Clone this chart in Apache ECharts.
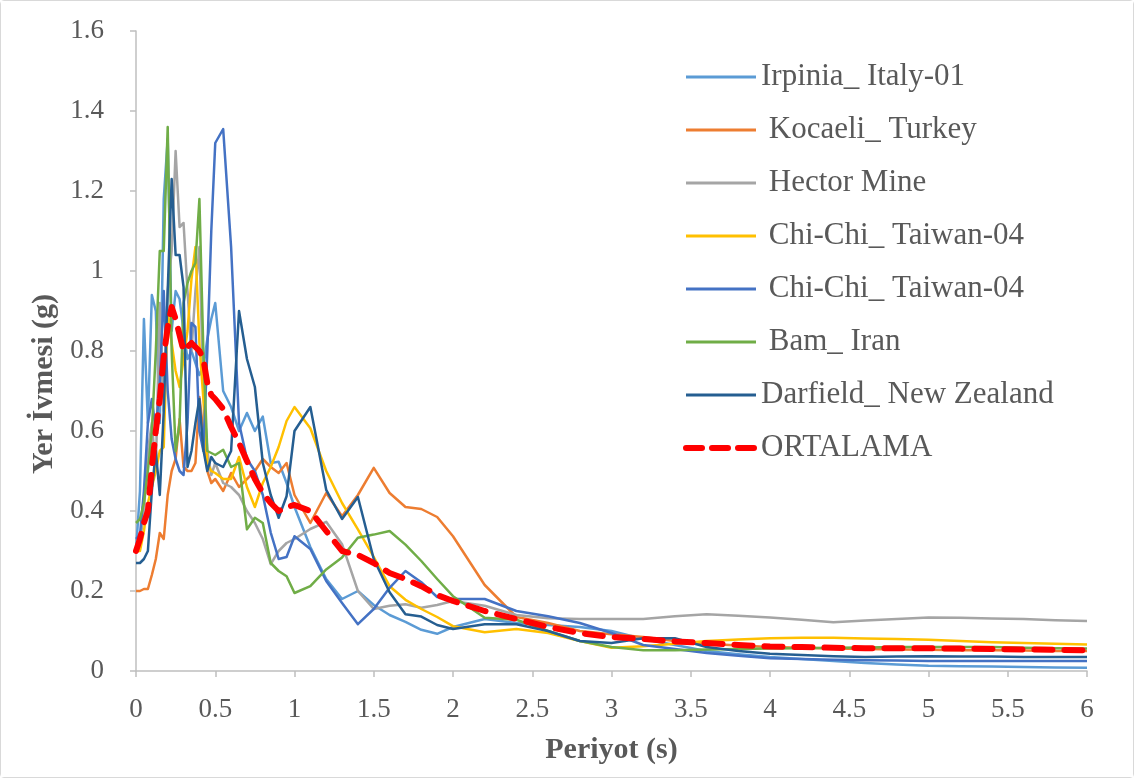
<!DOCTYPE html>
<html>
<head>
<meta charset="utf-8">
<script src="https://cdn.jsdelivr.net/npm/echarts@6/dist/echarts.min.js"></script>
<style>
html,body{margin:0;padding:0;background:#fff;}
#chart{width:1134px;height:778px;box-sizing:border-box;border:1px solid #D9D9D9;border-radius:4px;}
</style>
</head>
<body>
<div id="chart"></div>
<script>
// Period values (s) shared by all series
const periods = [0,0.025,0.05,0.075,0.1,0.125,0.15,0.175,0.2,0.225,0.25,0.275,0.3,0.325,0.35,0.375,0.4,0.425,0.45,0.475,0.5,0.55,0.6,0.65,0.7,0.75,0.8,0.85,0.9,0.95,1.0,1.1,1.2,1.3,1.4,1.5,1.6,1.7,1.8,1.9,2.0,2.2,2.4,2.6,2.8,3.0,3.2,3.4,3.6,3.8,4.0,4.2,4.4,4.6,4.8,5.0,5.2,5.4,5.6,5.8,6.0];

const irpinia = [0.30,0.45,0.88,0.62,0.94,0.90,0.62,1.18,1.33,0.85,0.95,0.93,0.85,0.78,0.80,0.77,0.74,0.76,0.83,0.88,0.92,0.70,0.66,0.60,0.645,0.60,0.636,0.52,0.523,0.47,0.41,0.31,0.23,0.18,0.20,0.165,0.14,0.123,0.103,0.093,0.11,0.13,0.12,0.115,0.11,0.10,0.08,0.065,0.05,0.042,0.035,0.03,0.025,0.02,0.016,0.013,0.012,0.011,0.01,0.009,0.008];
const kocaeli = [0.20,0.20,0.205,0.205,0.24,0.28,0.345,0.33,0.44,0.50,0.53,0.63,0.51,0.50,0.50,0.52,0.685,0.60,0.50,0.47,0.48,0.45,0.495,0.46,0.48,0.50,0.53,0.51,0.495,0.52,0.44,0.37,0.445,0.387,0.44,0.508,0.445,0.41,0.405,0.385,0.337,0.215,0.135,0.12,0.10,0.092,0.085,0.075,0.068,0.064,0.06,0.058,0.056,0.055,0.054,0.053,0.052,0.052,0.051,0.05,0.05];
const hector = [0.33,0.32,0.40,0.55,0.62,0.50,0.92,0.65,0.95,1.05,1.30,1.11,1.12,0.95,0.80,0.95,1.06,0.70,0.55,0.49,0.52,0.47,0.46,0.44,0.40,0.37,0.33,0.267,0.30,0.32,0.33,0.355,0.373,0.317,0.20,0.155,0.163,0.167,0.158,0.165,0.175,0.163,0.14,0.132,0.13,0.13,0.13,0.137,0.142,0.138,0.134,0.128,0.122,0.126,0.13,0.134,0.133,0.131,0.13,0.127,0.125];
const chichiA = [0.30,0.30,0.35,0.42,0.46,0.50,0.55,0.56,0.90,0.82,0.75,0.71,0.78,0.85,0.98,1.06,0.82,0.68,0.52,0.50,0.495,0.48,0.48,0.535,0.46,0.41,0.47,0.51,0.56,0.625,0.66,0.607,0.50,0.42,0.354,0.285,0.212,0.178,0.155,0.135,0.112,0.097,0.105,0.095,0.075,0.058,0.062,0.068,0.075,0.079,0.082,0.083,0.083,0.081,0.08,0.078,0.075,0.072,0.07,0.068,0.066];
const chichiB = [0.33,0.34,0.45,0.62,0.68,0.60,0.72,0.95,0.70,0.58,0.53,0.50,0.49,0.62,0.87,0.86,0.60,0.55,0.80,1.10,1.32,1.355,1.06,0.62,0.53,0.50,0.44,0.346,0.28,0.285,0.337,0.305,0.225,0.17,0.117,0.155,0.208,0.25,0.222,0.185,0.18,0.18,0.15,0.137,0.12,0.095,0.065,0.055,0.045,0.038,0.032,0.03,0.028,0.027,0.026,0.025,0.025,0.025,0.025,0.025,0.025];
const bam = [0.37,0.38,0.42,0.50,0.60,0.80,1.05,1.05,1.36,0.80,0.55,0.62,0.92,0.97,1.00,1.02,1.18,0.80,0.55,0.545,0.54,0.553,0.51,0.52,0.354,0.383,0.37,0.27,0.25,0.237,0.195,0.212,0.254,0.284,0.333,0.341,0.35,0.316,0.275,0.23,0.187,0.133,0.128,0.10,0.075,0.06,0.052,0.052,0.054,0.055,0.056,0.057,0.058,0.059,0.06,0.06,0.06,0.06,0.058,0.057,0.056];
const darfield = [0.27,0.27,0.28,0.30,0.45,0.55,0.44,0.65,0.95,1.23,1.04,1.04,0.96,0.51,0.55,0.62,0.68,0.553,0.50,0.535,0.52,0.51,0.55,0.90,0.78,0.71,0.52,0.44,0.383,0.437,0.60,0.66,0.453,0.38,0.435,0.28,0.197,0.142,0.136,0.115,0.105,0.117,0.117,0.10,0.075,0.07,0.082,0.082,0.06,0.05,0.043,0.04,0.037,0.035,0.036,0.037,0.036,0.036,0.035,0.035,0.035];
const ortalama = [0.30,0.33,0.37,0.40,0.51,0.60,0.68,0.785,0.86,0.91,0.88,0.84,0.80,0.81,0.82,0.81,0.80,0.78,0.72,0.69,0.68,0.655,0.61,0.57,0.525,0.48,0.445,0.42,0.40,0.41,0.415,0.40,0.35,0.30,0.29,0.27,0.245,0.23,0.212,0.19,0.175,0.15,0.13,0.11,0.095,0.085,0.08,0.074,0.07,0.065,0.061,0.06,0.058,0.057,0.057,0.057,0.056,0.055,0.054,0.053,0.052];

const seriesNames = ['Irpinia_ Italy-01',' Kocaeli_ Turkey',' Hector Mine',' Chi-Chi_ Taiwan-04',' Chi-Chi_ Taiwan-04\u00A0',' Bam_ Iran','Darfield_ New Zealand','ORTALAMA'];
const seriesValues = [irpinia,kocaeli,hector,chichiA,chichiB,bam,darfield,ortalama];
const seriesColors = ['#5B9BD5','#ED7D31','#A5A5A5','#FFC000','#4472C4','#70AD47','#255E91','#FF0000'];

const font = '"Liberation Serif","Times New Roman",serif';
const chart = echarts.init(document.getElementById('chart'), null, {renderer:'canvas'});

const series = seriesNames.map((name,i)=>{
  const isAvg = name === 'ORTALAMA';
  return {
    name: name,
    type: 'line',
    symbol: 'none',
    smooth: false,
    z: isAvg ? 10 : 2,
    data: periods.map((p,k)=>[p, seriesValues[i][k]]),
    lineStyle: isAvg
      ? {color: seriesColors[i], width: 6, type: [18, 12], cap: 'round', join:'round'}
      : {color: seriesColors[i], width: 2.5, join:'round'},
    itemStyle: {color: seriesColors[i]}
  };
});

const legendData = seriesNames.map((name,i)=>({
  name: name,
  lineStyle: name === 'ORTALAMA'
    ? {color: seriesColors[i], width: 6, type: [16, 10], cap: 'round'}
    : {color: seriesColors[i], width: 3}
}));

chart.setOption({
  animation: false,
  backgroundColor: '#fff',
  textStyle: {fontFamily: font},
  grid: {left: 135, right: 46, top: 30, bottom: 106},
  legend: {
    orient: 'vertical',
    left: 677,
    top: 54,
    itemWidth: 70,
    itemHeight: 14,
    itemGap: 19,
    itemStyle: {opacity: 0},
    data: legendData,
    textStyle: {fontFamily: font, fontSize: 31, color: '#595959', lineHeight: 34}
  },
  xAxis: {
    type: 'value',
    min: 0, max: 6, interval: 0.5,
    name: 'Periyot (s)',
    nameLocation: 'middle',
    nameGap: 64,
    nameTextStyle: {fontFamily: font, fontSize: 30, fontWeight: 'bold', color: '#595959'},
    axisLine: {show: true, lineStyle: {color: '#BFBFBF', width: 1.5}},
    axisTick: {show: true, length: 6, lineStyle: {color: '#BFBFBF', width: 1.5}},
    splitLine: {show: false},
    axisLabel: {fontFamily: font, fontSize: 27, color: '#595959', margin: 25}
  },
  yAxis: {
    type: 'value',
    min: 0, max: 1.6, interval: 0.2,
    name: 'Yer İvmesi (g)',
    nameLocation: 'middle',
    nameGap: 75,
    nameRotate: 90,
    nameTextStyle: {fontFamily: font, fontSize: 30, fontWeight: 'bold', color: '#595959', padding: [0, 66, 0, 0]},
    axisLine: {show: true, lineStyle: {color: '#BFBFBF', width: 1.5}},
    axisTick: {show: true, length: 6, lineStyle: {color: '#BFBFBF', width: 1.5}},
    splitLine: {show: false},
    axisLabel: {fontFamily: font, fontSize: 27, color: '#595959', margin: 32}
  },
  series: series
});
</script>
</body>
</html>
